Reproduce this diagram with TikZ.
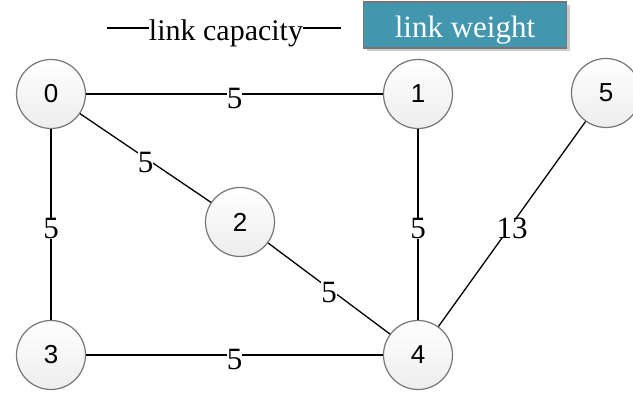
\documentclass[tikz,border=0pt]{standalone}
\usepackage{fontspec}
\setmainfont{Liberation Serif}
\newfontfamily\nodefont{Liberation Sans}
\usetikzlibrary{positioning,shadows}
\definecolor{wtblue}{RGB}{66,151,175}
\definecolor{rimgray}{RGB}{118,118,118}
\tikzset{
  vtx/.style={circle,draw=rimgray,line width=1.2pt,top color=white,bottom color=black!7,minimum size=69pt,inner sep=0pt,font=\nodefont\fontsize{26}{28}\selectfont},
  lnk/.style={line width=1.3pt},
  caplab/.style={fill=white,inner sep=0pt,yshift=-4pt,font=\fontsize{31}{32}\selectfont},
  wbox/.style={draw=rimgray,line width=1.2pt,fill=wtblue,text=white,minimum width=203pt,minimum height=46pt,inner sep=0pt,text height=28pt,text depth=3pt,drop shadow={shadow xshift=3pt,shadow yshift=-3pt,fill=black!20,opacity=1},font=\fontsize{31}{32}\selectfont}
}
\begin{document}
\begin{tikzpicture}[x=1pt,y=-1pt]
  \useasboundingbox (0,0) rectangle (633,394);
  % legend
  \node[inner sep=0pt,font=\fontsize{30}{31}\selectfont] (capt) at (226,33) {link capacity};
  \coordinate (capL) at (107,28); \coordinate (capR) at (341,28);
  \draw[lnk] (capL) -- (capL -| capt.west); \draw[lnk] (capR -| capt.east) -- (capR);
  \node[wbox] (wt) at (465,25) {link weight};
  % nodes
  \node[vtx] (n0) at (51,94) {0}; \node[vtx] (n1) at (418,94) {1}; \node[vtx] (n5) at (606,93) {5};
  \node[vtx] (n2) at (240,222) {2};
  \node[vtx] (n3) at (51,355) {3}; \node[vtx] (n4) at (418,355) {4};
  % links
  \draw[lnk] (n0) -- node[caplab] {5} (n1);
  \draw[lnk] (n0) -- node[caplab] {5} (n2);
  \draw[lnk] (n0) -- node[caplab] {5} (n3);
  \draw[lnk] (n2) -- node[caplab] {5} (n4);
  \draw[lnk] (n1) -- node[caplab] {5} (n4);
  \draw[lnk] (n4) -- node[caplab] {13} (n5);
  \draw[lnk] (n3) -- node[caplab] {5} (n4);
\end{tikzpicture}
\end{document}
